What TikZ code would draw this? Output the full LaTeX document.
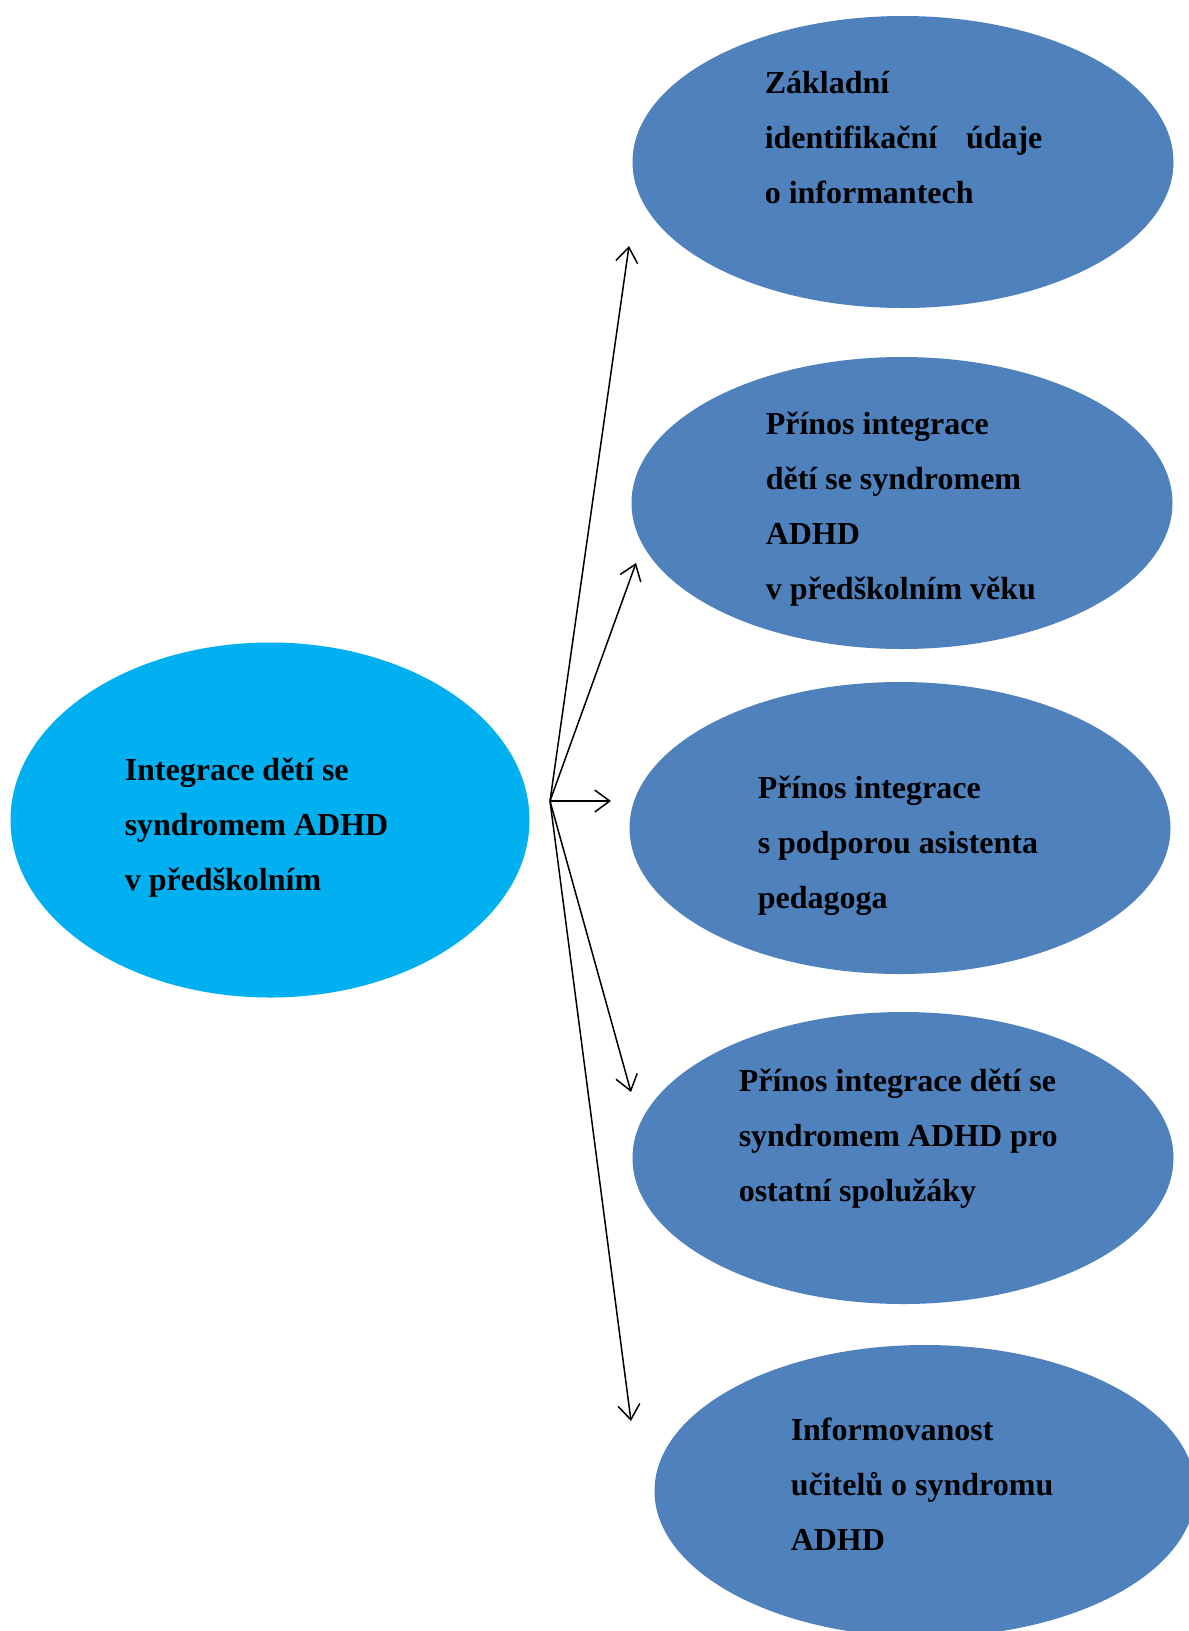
\documentclass[tikz,border=0pt]{standalone}
\usepackage{fontspec}
\setmainfont{Liberation Serif}
\usetikzlibrary{arrows.meta,shapes,positioning}
\definecolor{mainblue}{HTML}{00B0F0}
\definecolor{topicblue}{HTML}{4F81BD}

\begin{document}
\begin{tikzpicture}[x=1pt,y=-1pt,line width=1.5pt,->,>={Straight Barb[length=15pt,width=22pt]}]
  \tikzstyle{topic}=[ellipse,fill=topicblue,minimum width=541pt,minimum height=292pt,inner sep=0pt]
  \tikzstyle{txt}=[anchor=base west,align=left,inner sep=0pt,
                   font=\fontsize{32}{55}\selectfont\bfseries]
  \useasboundingbox (0,0) rectangle (1189,1631);

  \node[ellipse,fill=mainblue,minimum width=519pt,minimum height=355pt,inner sep=0pt] (main) at (270,820) {};

  \foreach \name/\x/\y in {E-1/903/162, E-2/902/503, E-3/900/828,
                           E-4/903/1158, E-5/925/1491}
    \node[topic] (\name) at (\x,\y) {};

  % texts (placed at the baseline of the last line)
  \node[txt] (main-text) at (124,890) {Integrace dětí se\\syndromem ADHD\\v předškolním};
  \node[txt] (E-1-text) at (764,203) {Základní\\identifikační\hspace{0.9em}údaje\\o informantech};
  \node[txt] (E-2-text) at (765,599) {Přínos integrace\\dětí se syndromem\\ADHD\\v předškolním věku};
  \node[txt] (E-3-text) at (757,908) {Přínos integrace\\s podporou asistenta\\pedagoga};
  \node[txt] (E-4-text) at (738,1201) {Přínos integrace dětí se\\syndromem ADHD pro\\ostatní spolužáky};
  \node[txt] (E-5-text) at (790,1550) {Informovanost\\učitelů o syndromu\\ADHD};

  % arrows
  \coordinate (hub) at (550,801);
  \foreach \name/\x/\y in {T-1/629/246, T-2/636/563, T-3/611/801,
                           T-4/631/1092, T-5/631/1421}
  {
    \coordinate (\name) at (\x,\y);
    \draw (hub) -- (\name);
  }
\end{tikzpicture}
\end{document}
